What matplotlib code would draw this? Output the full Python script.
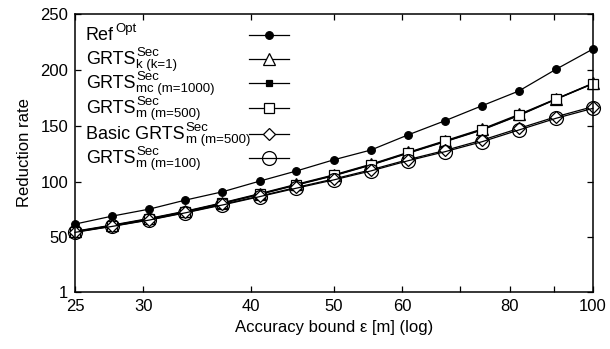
import numpy as np
import matplotlib
matplotlib.use('Agg')
from matplotlib import pyplot as plt
from matplotlib import transforms
from matplotlib.ticker import FixedLocator, FixedFormatter, NullLocator

plt.rcParams['font.family'] = ['Liberation Sans', 'DejaVu Sans']

# accuracy bound [m]
eps = [25, 27.6, 30.5, 33.6, 37.1, 41.0, 45.2, 50, 55.2, 60.9, 67.3, 74.3, 82.0, 90.6, 100]

ref_opt = [61.9, 69.0, 75.3, 83.4, 90.8, 100.4, 109.4, 119.5, 128.2, 141.6, 154.4, 167.8, 181.0, 200.5, 218.6]
grts_k1 = [55.5, 61.0, 67.0, 73.5, 81.0, 89.2, 97.5, 106.0, 115.5, 126.0, 136.5, 147.0, 160.0, 174.0, 188.0]
grts_mc1000 = [55.0, 60.4, 66.4, 72.9, 80.4, 88.5, 96.8, 105.2, 114.7, 125.2, 135.6, 146.1, 159.0, 173.6, 187.5]
grts_m500 = [55.2, 60.6, 66.6, 73.1, 80.6, 88.7, 97.0, 105.5, 115.0, 125.5, 135.9, 146.4, 159.3, 173.8, 187.7]
basic_m500 = [54.8, 60.0, 65.8, 72.3, 79.5, 87.0, 94.7, 102.3, 110.5, 119.5, 127.8, 137.0, 147.5, 158.0, 167.0]
grts_m100 = [54.5, 59.8, 65.5, 72.0, 79.0, 86.5, 94.0, 101.5, 109.5, 118.5, 126.7, 135.6, 146.1, 156.6, 165.5]

# legend labels: (main, superscript, subscript)
labels = [('Ref', 'Opt', ''),
          ('GRTS', 'Sec', 'k (k=1)'),
          ('GRTS', 'Sec', 'mc (m=1000)'),
          ('GRTS', 'Sec', 'm (m=500)'),
          ('Basic GRTS', 'Sec', 'm (m=500)'),
          ('GRTS', 'Sec', 'm (m=100)')]
series = [ref_opt, grts_k1, grts_mc1000, grts_m500, basic_m500, grts_m100]
styles = [dict(marker='o', ms=5.5, mfc='black'),
          dict(marker='^', ms=8, mfc='white'),
          dict(marker='s', ms=5, mfc='black'),
          dict(marker='s', ms=7.5, mfc='white'),
          dict(marker='D', ms=6, mfc='white'),
          dict(marker='o', ms=10, mfc='none')]

fig = plt.figure(figsize=(6.1, 3.49), dpi=100)
ax = fig.add_axes([0.123, 0.163, 0.849, 0.797])

for ys, st in zip(series, styles):
    ax.plot(eps, ys, color='black', lw=0.9, mec='black', mew=0.9, clip_on=False, **st)

ax.set_xscale('log')
ax.set_xlim(25, 100)
ax.set_ylim(1, 250)
ax.xaxis.set_major_locator(FixedLocator([25, 30, 40, 50, 60, 70, 80, 90, 100]))
ax.xaxis.set_major_formatter(FixedFormatter(['25', '30', '40', '50', '60', '', '80', '', '100']))
ax.xaxis.set_minor_locator(NullLocator())
ax.set_yticks([1, 50, 100, 150, 200, 250])
ax.tick_params(direction='in', length=4, width=0.9, top=True, right=True, labelsize=12, pad=5)
for s in ax.spines.values():
    s.set_linewidth(1.1)

ax.set_xlabel('Accuracy bound ε [m] (log)', fontsize=12, labelpad=4)
ax.set_ylabel('Reduction rate', fontsize=12, labelpad=6)

# gnuplot-like key: text on the left, line sample on the right
ax_h = 278.0  # axes height in px
row_px = [35, 59, 83, 108, 134, 158]  # sample centres, px from top of figure
fig.canvas.draw()
renderer = fig.canvas.get_renderer()
for (main, sup, sub), st, yp in zip(labels, styles, row_px):
    yc = (292 - yp) / ax_h
    yb = (292 - yp - 5) / ax_h
    t = ax.text(0.021, yb, main, transform=ax.transAxes, fontsize=13, va='baseline', ha='left')
    bb = t.get_window_extent(renderer)
    xe = ax.transAxes.inverted().transform((bb.x1, 0))[0]
    ax.text(xe + 0.002, yb, sup, fontsize=9.5, va='baseline', ha='left',
            transform=transforms.offset_copy(ax.transAxes, fig=fig, x=0, y=8, units='dots'))
    if sub:
        ax.text(xe + 0.002, yb, sub, fontsize=9.5, va='baseline', ha='left',
                transform=transforms.offset_copy(ax.transAxes, fig=fig, x=0, y=-4, units='dots'))
    ax.plot([0.336, 0.375, 0.413], [yc, yc, yc], transform=ax.transAxes, color='black',
            lw=0.9, mec='black', mew=0.9, markevery=[1], clip_on=False, **st)

fig.savefig('out.png', dpi=100)
